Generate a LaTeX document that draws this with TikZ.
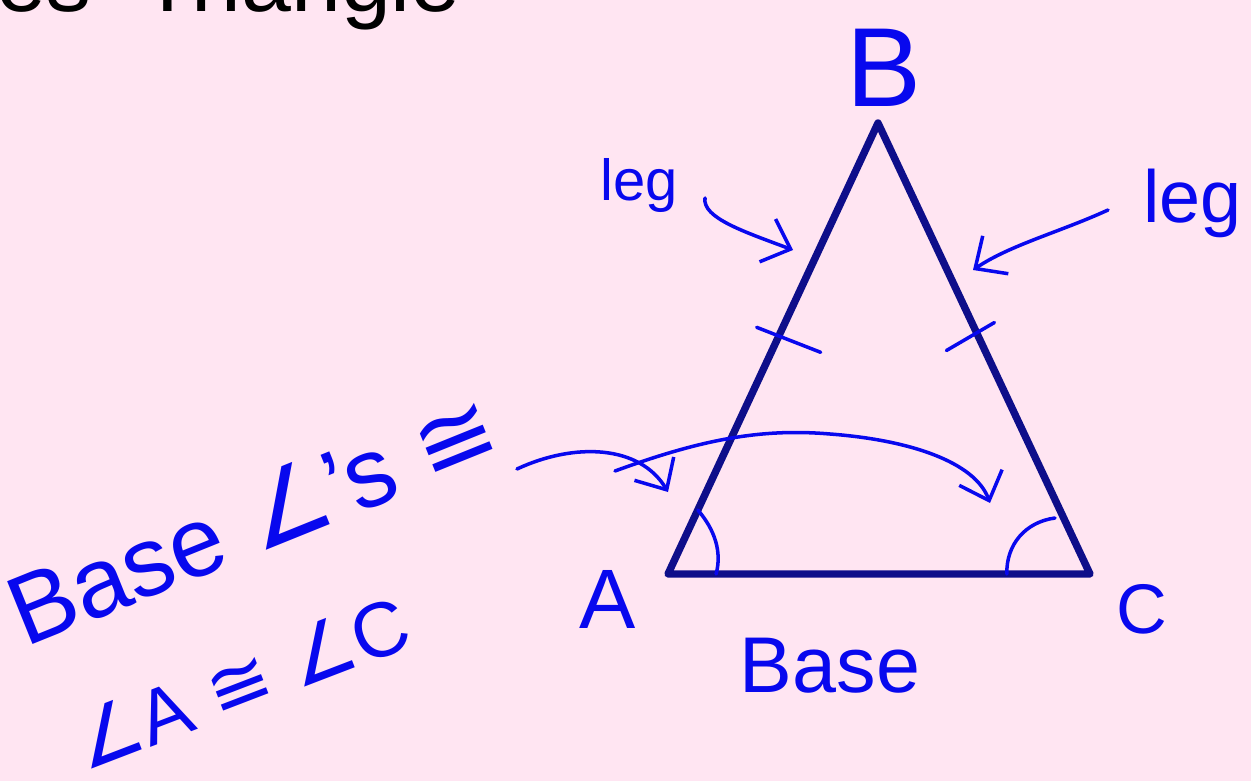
\documentclass[tikz,border=0pt]{standalone}
\usepackage{fontspec}
\setmainfont{Liberation Sans}
\newfontfamily\symfont{DejaVu Sans}
\usetikzlibrary{arrows.meta, calc}
\definecolor{bgpink}{RGB}{255,229,242}
\definecolor{navy}{RGB}{14,14,138}
\definecolor{ink}{RGB}{8,8,238}

\begin{document}
\begin{tikzpicture}[
        x=0.02cm, y=-0.02cm,
        side/.style={draw=navy, line width=4.2pt, line join=round, line cap=round},
        hand/.style={draw=ink, line width=2pt, line cap=round, line join=round},
        pen/.style={text=ink, inner sep=0pt},
        barb/.style={-{Straight Barb[length=14pt, width=26pt]}}
    ]
        \clip (0,0) rectangle (1251,781);
        \fill[bgpink] (0,0) rectangle (1251,781);

        % --- TITLE ---
        \node[anchor=base east, inner sep=0pt, font=\fontsize{51}{51}\selectfont] (title) at (461,11) {Isosceles\hspace{0.55em}Triangle};

        % --- TRIANGLE ---
        \coordinate (A) at (668,574);
        \coordinate (B) at (878,123);
        \coordinate (C) at (1090,574);
        \draw[side] (A) -- (B) -- (C) -- cycle;

        % --- LABELS ---
        \node[pen, anchor=base, font=\fontsize{64}{64}\selectfont] (labB) at (884,106) {B};
        \node[pen, anchor=base, font=\fontsize{48}{48}\selectfont] (labA) at (608,628) {A};
        \node[pen, anchor=base, font=\fontsize{40}{40}\selectfont] (labC) at (1142,633) {C};
        \node[pen, anchor=base, font=\fontsize{45}{45}\selectfont] (baseLab) at (830,692) {Base};
        \node[pen, anchor=base west, font=\fontsize{33}{33}\selectfont] (legL) at (600,200) {leg};
        \node[pen, anchor=base west, font=\fontsize{42}{42}\selectfont] (legR) at (1143,222) {leg};
        \node[pen, anchor=base west, rotate=22, font=\fontsize{56}{56}\selectfont] (baseAngles) at (25,648) {Base {\symfont ∠}'s {\symfont ≅}};
        \node[pen, anchor=base west, rotate=21, font=\fontsize{44}{44}\selectfont] (congAC) at (85,772) {{\symfont ∠}A {\symfont ≅} {\symfont ∠}C};

        % --- TICKS AND ANGLES ---
        \draw[hand] ($(A)!0.527!(B)$) ++(-22,-9) -- ++(64,25);
        \draw[hand] ($(C)!0.531!(B)$) ++(-31,16) -- ++(48,-28);
        \draw[hand] ($(A)!0.142!(B)$) .. controls (715,530) and (722,552) .. ($(A)!0.114!(C)$);
        \draw[hand] (1055,518) .. controls (1025,522) and (1006,545) .. ($(C)!0.197!(A)$);

        % --- ARROWS ---
        \coordinate (legLtail) at (705,198);
        \coordinate (legLhead) at (793,250);
        \coordinate (legRtail) at (1108,210);
        \coordinate (legRhead) at (973,270);
        \coordinate (toAtail) at (517,469);
        \coordinate (toAhead) at (668,492);
        \coordinate (toCtail) at (615,471);
        \coordinate (toChead) at (990,503);
        \draw[hand, barb] (legLtail) .. controls (702,218) and (745,232) .. (legLhead);
        \draw[hand, barb] (legRtail) .. controls (1060,232) and (1010,245) .. (legRhead);
        \draw[hand, barb] (toAtail) .. controls (575,442) and (640,445) .. (toAhead);
        \draw[hand, barb] (toCtail) .. controls (700,440) and (760,428) .. (830,434) .. controls (910,440) and (975,462) .. (toChead);

    \end{tikzpicture}
\end{document}
